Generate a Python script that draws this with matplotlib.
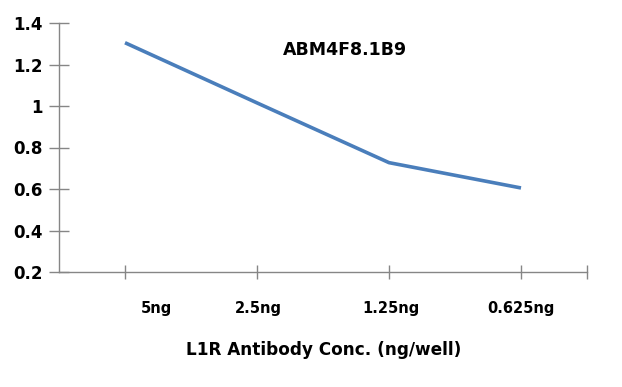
import matplotlib
matplotlib.use("Agg")
import matplotlib.pyplot as plt

categories = ["5ng", "2.5ng", "1.25ng", "0.625ng"]
values = [1.305, 1.015, 0.727, 0.605]
yticks = [0.2, 0.4, 0.6, 0.8, 1.0, 1.2, 1.4]
ytick_labels = ["0.2", "0.4", "0.6", "0.8", "1", "1.2", "1.4"]
title = "ABM4F8.1B9"
xlabel = "L1R Antibody Conc. (ng/well)"

W, H = 622, 387
fig = plt.figure(figsize=(W / 100, H / 100), dpi=100)
ax = fig.add_axes([59 / W, (H - 272) / H, (587 - 59) / W, (272 - 23) / H])

x = list(range(len(categories)))
ax.plot(x, values, color="#4A7EBB", linewidth=2.6, solid_capstyle="butt")

ax.set_xlim(-0.5, len(categories) - 0.5)
ax.set_ylim(0.2, 1.4)

gray = "#868686"
for s in ["top", "right"]:
    ax.spines[s].set_visible(False)
for s in ["left", "bottom"]:
    ax.spines[s].set_color(gray)
    ax.spines[s].set_linewidth(1.0)

ax.set_yticks(yticks)
ax.set_yticklabels(ytick_labels, fontfamily="DejaVu Sans", fontweight="bold", fontsize=12)
ax.tick_params(axis="y", direction="inout", length=14, color=gray, width=1.0, pad=5)

# tick marks at category centres and right end
ax.set_xticks(x + [len(categories) - 0.5])
ax.set_xticklabels([""] * (len(categories) + 1))
ax.tick_params(axis="x", which="major", direction="inout", length=10, color=gray, width=1.0)
# labels via minor ticks (slightly offset so they are not merged with major ticks)
label_pos = [0.24, 1.01, 2.015, 3.003]
ax.set_xticks(label_pos, minor=True)
ax.set_xticklabels(categories, minor=True, fontfamily="DejaVu Sans", fontweight="bold", fontsize=10.5)
ax.tick_params(axis="x", which="minor", length=0, pad=21)

ax.text(0.542, 0.89, title, transform=ax.transAxes, ha="center", va="center",
        fontfamily="DejaVu Sans", fontweight="bold", fontsize=12.5)

fig.text(324 / W, 1 - 350 / H, xlabel, ha="center", va="center",
         fontfamily="DejaVu Sans", fontweight="bold", fontsize=12.2)

fig.savefig("out.png", dpi=100)
